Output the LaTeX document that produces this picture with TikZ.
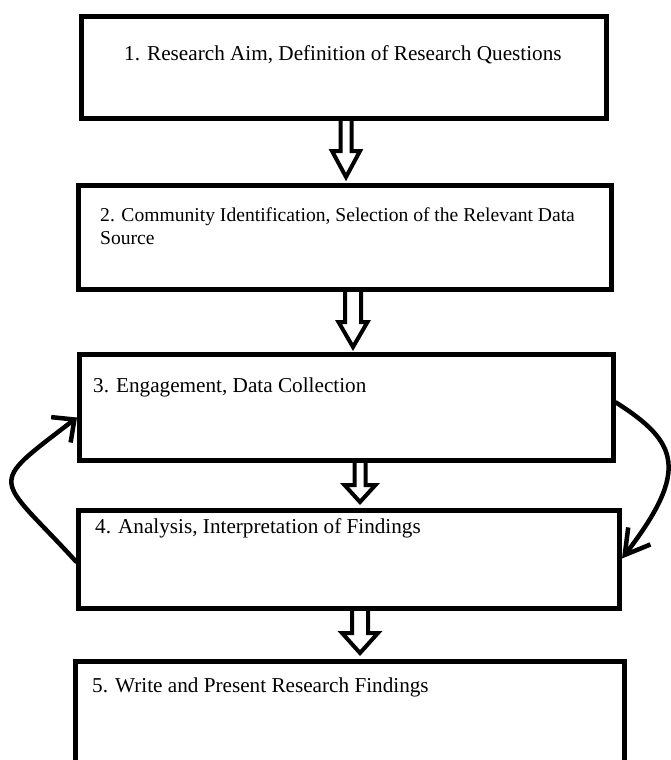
\documentclass[tikz,border=0pt]{standalone}
\usepackage{fontspec}
\setmainfont{Liberation Serif}
\usetikzlibrary{arrows.meta}

\begin{document}
\begin{tikzpicture}[x=1pt, y=-1pt,
  box/.style={draw, rectangle, line width=5pt, inner sep=0pt},
  txt/.style={anchor=west, inner sep=0pt, align=left, font=\fontsize{21.2}{23}\selectfont},
  fat/.style={draw, line width=4pt, line join=miter},
  loop/.style={line width=4.5pt, line cap=round}]
\useasboundingbox (0,0) rectangle (671,760);
\node[box, minimum width=525pt, minimum height=102pt] (B1) at (344,67.5) {};
\node[box, minimum width=533pt, minimum height=104pt] (B2) at (345,237.5) {};
\node[box, minimum width=534pt, minimum height=106pt] (B3) at (346.5,407.5) {};
\node[box, minimum width=541pt, minimum height=98pt] (B4) at (349,559.5) {};
\node[box, minimum width=549pt, minimum height=138pt] (B5) at (350,730.5) {};
\node[txt] (T1) at (124,55) {1. Research Aim, Definition of Research Questions};
\node[txt, font=\fontsize{19.6}{23}\selectfont] (T2) at (100,226.5) {2. Community Identification, Selection of the Relevant Data\\Source};
\node[txt] (T3) at (93,387) {3. Engagement, Data Collection};
\node[txt] (T4) at (95,528) {4. Analysis, Interpretation of Findings};
\node[txt] (T5) at (92,687) {5. Write and Present Research Findings};
\coordinate (A1) at (346,119);
\coordinate (A2) at (353,290);
\coordinate (A3) at (360,461);
\coordinate (A4) at (360,608);
\draw[fat] (A1) ++(-5.5,0) -- ++(0,32) -- ++(-8.5,0) -- ++(14,26) -- ++(14,-26) -- ++(-8.5,0) -- ++(0,-32);
\draw[fat] (A2) ++(-8,0) -- ++(0,32) -- ++(-6.5,0) -- ++(14.5,25) -- ++(14.5,-25) -- ++(-6.5,0) -- ++(0,-32);
\draw[fat] (A3) ++(-5.5,0) -- ++(0,24) -- ++(-10,0) -- ++(15.5,17) -- ++(15.5,-17) -- ++(-10,0) -- ++(0,-24);
\draw[fat] (A4) ++(-8,0) -- ++(0,25) -- ++(-10,0) -- ++(18,20) -- ++(18,-20) -- ++(-10,0) -- ++(0,-25);
\draw[loop, -{Straight Barb[length=24pt, width=28pt]}] ([yshift=5pt]B3.east) .. controls (678,442) and (690,470) .. ([yshift=1pt]B4.east);
\draw[loop, -{Straight Barb[length=17pt, width=32pt]}] ([yshift=-2pt]B4.west) .. controls (-4,474) and (-15,488) .. ([yshift=-10pt]B3.west);
\end{tikzpicture}
\end{document}
